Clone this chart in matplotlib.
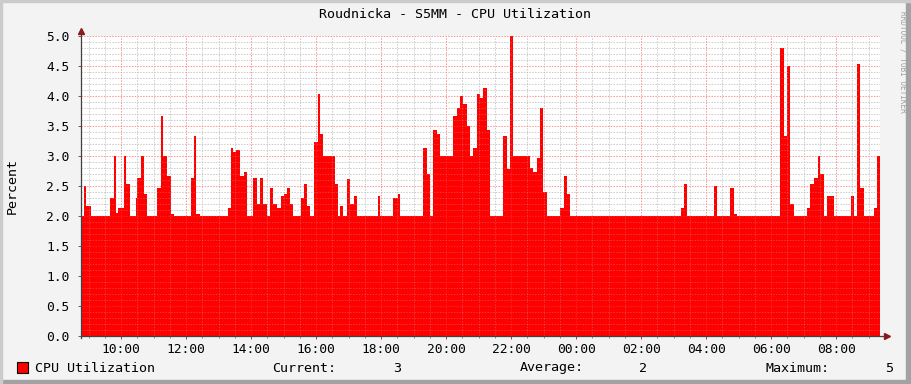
import matplotlib
matplotlib.use("Agg")
import matplotlib.pyplot as plt
import numpy as np
from matplotlib.patches import Rectangle

title = "Roudnicka - S5MM - CPU Utilization"
ylabel = "Percent"
series_name = "CPU Utilization"

# step start times (HH:MM, crossing midnight) and CPU values
times = ["08:46", "08:51", "08:55", "09:04", "09:40", "09:46", "09:50", "09:54", "10:05", "10:09",
         "10:16", "10:27", "10:29", "10:36", "10:42", "10:47", "11:06", "11:13", "11:17", "11:24",
         "11:32", "11:37", "12:09", "12:14", "12:18", "12:25", "13:17", "13:22", "13:27", "13:32",
         "13:40", "13:46", "13:53", "14:04", "14:11", "14:17", "14:22", "14:30", "14:35", "14:41",
         "14:48", "14:55", "15:01", "15:06", "15:12", "15:18", "15:32", "15:38", "15:43", "15:49",
         "15:56", "16:04", "16:07", "16:13", "16:35", "16:41", "16:44", "16:50", "16:57", "17:03",
         "17:10", "17:16", "17:54", "17:58", "18:22", "18:31", "18:35", "19:17", "19:25", "19:30",
         "19:36", "19:43", "19:49", "20:13", "20:20", "20:26", "20:31", "20:39", "20:44", "20:50",
         "20:57", "21:03", "21:08", "21:16", "21:21", "21:45", "21:53", "21:58", "22:04", "22:35",
         "22:41", "22:48", "22:54", "22:59", "23:06", "23:30", "23:38", "23:43", "23:49", "03:14",
         "03:19", "03:25", "04:15", "04:20", "04:44", "04:52", "04:57", "06:17", "06:24", "06:30",
         "06:35", "06:42", "07:06", "07:12", "07:19", "07:27", "07:30", "07:38", "07:43", "07:56",
         "08:28", "08:33", "08:39", "08:44", "08:52", "09:10", "09:16"]
values = [2.0, 2.5, 2.17, 2.0, 2.3, 3.0, 2.05, 2.13, 3.0, 2.53,
          2.0, 2.3, 2.63, 3.0, 2.37, 2.0, 2.47, 3.67, 3.0, 2.67,
          2.03, 2.0, 2.63, 3.33, 2.03, 2.0, 2.13, 3.13, 3.07, 3.1,
          2.67, 2.73, 2.0, 2.63, 2.2, 2.63, 2.2, 2.0, 2.47, 2.2,
          2.13, 2.33, 2.37, 2.47, 2.2, 2.0, 2.3, 2.53, 2.17, 2.0,
          3.23, 4.03, 3.37, 3.0, 2.53, 2.0, 2.17, 2.0, 2.62, 2.2,
          2.33, 2.0, 2.33, 2.0, 2.3, 2.37, 2.0, 3.13, 2.7, 2.0,
          3.43, 3.37, 3.0, 3.67, 3.8, 4.0, 3.87, 3.5, 3.0, 3.13,
          4.03, 3.97, 4.13, 3.43, 2.0, 3.33, 2.78, 5.0, 3.0, 2.8,
          2.73, 2.97, 3.8, 2.4, 2.0, 2.13, 2.67, 2.37, 2.0, 2.13,
          2.53, 2.0, 2.5, 2.0, 2.47, 2.03, 2.0, 4.8, 3.33, 4.5,
          2.2, 2.0, 2.13, 2.53, 2.63, 3.0, 2.7, 2.0, 2.33, 2.0,
          2.33, 2.0, 4.53, 2.47, 2.0, 2.13, 3.0]
end_time = "09:21"

x_ticks = ["10:00", "12:00", "14:00", "16:00", "18:00", "20:00", "22:00", "00:00",
           "02:00", "04:00", "06:00", "08:00"]
y_ticks = [0.0, 0.5, 1.0, 1.5, 2.0, 2.5, 3.0, 3.5, 4.0, 4.5, 5.0]

legend_current = "3"
legend_average = "2"
legend_maximum = "5"


def to_hours(seq):
    out = []
    day = 0
    prev = None
    for s in seq:
        h, m = s.split(":")
        v = int(h) + int(m) / 60.0
        if prev is not None and v + day * 24 < prev:
            day += 1
        v += day * 24
        out.append(v)
        prev = v
    return np.array(out)


xs = to_hours(times + [end_time])
ys = np.array(values + [values[-1]])
tick_pos = to_hours(x_ticks)

W, H = 911, 384
fig = plt.figure(figsize=(W / 100, H / 100), dpi=100)
fig.patch.set_facecolor("#F3F3F3")
mono = "DejaVu Sans Mono"

# frame shading
fig.add_artist(Rectangle((0, 0), 1, 4 / H, transform=fig.transFigure, color="#A2A2A2", zorder=0))
fig.add_artist(Rectangle((1 - 5 / W, 0), 5 / W, 1, transform=fig.transFigure, color="#A2A2A2", zorder=0))
fig.add_artist(Rectangle((0, 1 - 2 / H), 1, 2 / H, transform=fig.transFigure, color="#CBCBCB", zorder=0))
fig.add_artist(Rectangle((0, 0), 2 / W, 1, transform=fig.transFigure, color="#CBCBCB", zorder=0))

left, right = 81, 880
top, bottom = 36, 336
ax = fig.add_axes([left / W, 1 - bottom / H, (right - left) / W, (bottom - top) / H])
ax.set_facecolor("white")
ax.set_xlim(xs[0], xs[-1])
ax.set_ylim(0, 5)

ax.fill_between(xs, 0, ys, step="post", color="#FF0000", lw=0, zorder=2)

# grid: full strength under the area, faint copy over it (RRD style)
start_half = np.ceil(xs[0] * 2) / 2
minor_x = [xv for xv in np.arange(start_half, xs[-1], 0.5)
           if abs((xv - 10) / 2 - round((xv - 10) / 2)) > 1e-6]
minor_y = [yv for yv in np.arange(0.1, 5.0001, 0.1) if abs(yv * 2 - round(yv * 2)) > 1e-6]


def draw_grid(alpha, z):
    for yv in minor_y:
        ax.axhline(yv, color="#BBBBBB", lw=0.72, dashes=(1.4, 1.4), alpha=alpha, zorder=z)
    for yv in y_ticks[1:]:
        ax.axhline(yv, color="#FF7070", lw=0.72, dashes=(1.4, 1.4), alpha=alpha, zorder=z)
    for xv in minor_x:
        ax.axvline(xv, color="#BBBBBB", lw=0.72, dashes=(1.4, 1.4), alpha=alpha, zorder=z)
    for xv in tick_pos:
        ax.axvline(xv, color="#FF7070", lw=0.72, dashes=(1.4, 1.4), alpha=alpha, zorder=z)


draw_grid(0.6, 1)
draw_grid(0.3, 3)

for s in ax.spines.values():
    s.set_visible(False)
# axes with arrows
ax.plot([0, 1.009], [0, 0], transform=ax.transAxes, color="#404040", lw=0.9, clip_on=False, zorder=5)
ax.plot([0, 0], [-0.008, 1.017], transform=ax.transAxes, color="#404040", lw=0.9, clip_on=False, zorder=5)
ax.plot([1.009], [0], transform=ax.transAxes, marker=">", ms=4, color="#8B1A1A", clip_on=False, zorder=6)
ax.plot([0], [1.017], transform=ax.transAxes, marker="^", ms=4, color="#8B1A1A", clip_on=False, zorder=6)

ax.set_yticks(y_ticks)
ax.set_yticklabels([f"{v:.1f}" for v in y_ticks], fontfamily=mono, fontsize=9.3, color="#000000")
ax.set_xticks(tick_pos)
ax.set_xticklabels(x_ticks, fontfamily=mono, fontsize=9.3, color="#000000")
ax.set_xticks(minor_x, minor=True)
ax.tick_params(axis="y", which="major", length=2, width=0.7, color="#606060", pad=6.5)
ax.tick_params(axis="x", which="major", length=2, width=0.7, color="#A04040", pad=3)
ax.tick_params(axis="x", which="minor", length=1.5, width=0.7, color="#909090")

fig.text(455 / W, 1 - 14 / H, title, ha="center", va="center", fontfamily=mono, fontsize=9.6)
fig.text(12 / W, 1 - 186 / H, ylabel, ha="center", va="center", rotation=90, fontfamily=mono, fontsize=9.6)
fig.text(903 / W, 1 - 62 / H, "RRDTOOL / TOBI OETIKER", ha="center", va="center", rotation=270,
         fontfamily=mono, fontsize=5.6, color="#A0A0A0")

# legend
ly = 1 - 368 / H
fig.add_artist(Rectangle((17 / W, 1 - 373 / H), 11 / W, 11 / H, transform=fig.transFigure,
                         facecolor="#FF0000", edgecolor="#000000", lw=0.8))
fig.text(35 / W, ly, series_name, ha="left", va="center", fontfamily=mono, fontsize=9.6)
fig.text(272 / W, ly, "Current:", ha="left", va="center", fontfamily=mono, fontsize=9.6)
fig.text(401 / W, ly, legend_current, ha="right", va="center", fontfamily=mono, fontsize=9.6)
fig.text(520 / W, ly, "Average:", ha="left", va="center", fontfamily=mono, fontsize=9.6)
fig.text(647 / W, ly, legend_average, ha="right", va="center", fontfamily=mono, fontsize=9.6)
fig.text(765 / W, ly, "Maximum:", ha="left", va="center", fontfamily=mono, fontsize=9.6)
fig.text(893 / W, ly, legend_maximum, ha="right", va="center", fontfamily=mono, fontsize=9.6)

fig.savefig("out.png", dpi=100, facecolor=fig.get_facecolor())
